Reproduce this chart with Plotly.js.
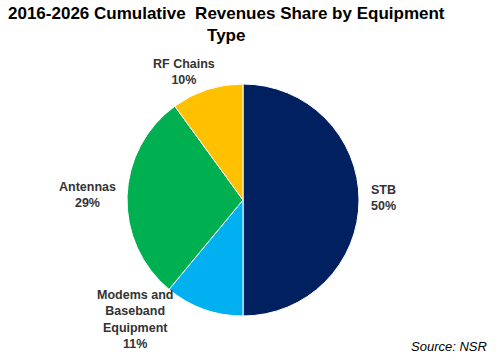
<!DOCTYPE html>
<html>
<head>
<meta charset="utf-8">
<script src="https://cdn.plot.ly/plotly-3.0.1.min.js"></script>
<style>html,body{margin:0;padding:0;background:#fff;}#chart{width:500px;height:362px;}</style>
</head>
<body>
<div id="chart"></div>
<script>
const categories = ["STB", "Modems and Baseband Equipment", "Antennas", "RF Chains"];
const labelLines = ["STB", "Modems and<br>Baseband<br>Equipment", "Antennas", "RF Chains"];
const shares = [50, 11, 29, 10];
const colors = ["#002060", "#00b0f0", "#00b050", "#ffc000"];
// label anchor positions (layout only, pixels)
const labelPos = [[383, 198], [135, 319], [87, 195], [184, 72]];

const W = 500, H = 362;
const cx = 243, cy = 200, r = 116;

const annotations = categories.map((c, i) => ({
  xref: "paper", yref: "paper",
  x: labelPos[i][0] / W, y: 1 - labelPos[i][1] / H,
  xanchor: "center", yanchor: "middle",
  text: "<b>" + labelLines[i] + "<br>" + shares[i] + "%</b>",
  showarrow: false,
  font: {family: "Liberation Sans, Arial, sans-serif", size: 12.5, color: "#333333"},
  align: "center"
}));
annotations.push({
  xref: "paper", yref: "paper", x: 489 / W, y: 1 - 346 / H,
  xanchor: "right", yanchor: "middle",
  text: "<i>Source: NSR</i>", showarrow: false,
  font: {family: "Liberation Sans, Arial, sans-serif", size: 13, color: "#000"}
});
annotations.push({
  xref: "paper", yref: "paper", x: 226 / W, y: 1 - 25 / H,
  xanchor: "center", yanchor: "middle",
  text: "<b>2016-2026 Cumulative&nbsp; Revenues Share by Equipment<br>Type</b>",
  showarrow: false,
  font: {family: "Liberation Sans, Arial, sans-serif", size: 17, color: "#000"}
});

const data = [{
  type: "pie",
  labels: categories,
  values: shares,
  marker: {colors: colors, line: {color: "#ffffff", width: 1}},
  sort: false,
  direction: "clockwise",
  rotation: 0,
  textinfo: "none",
  hoverinfo: "label+percent",
  showlegend: false,
  domain: {x: [(cx - r) / W, (cx + r) / W], y: [1 - (cy + r) / H, 1 - (cy - r) / H]}
}];

const layout = {
  width: W, height: H,
  margin: {l: 0, r: 0, t: 0, b: 0},
  paper_bgcolor: "#fff",
  showlegend: false,
  annotations: annotations
};
Plotly.newPlot("chart", data, layout, {displayModeBar: false, staticPlot: true});
</script>
</body>
</html>
